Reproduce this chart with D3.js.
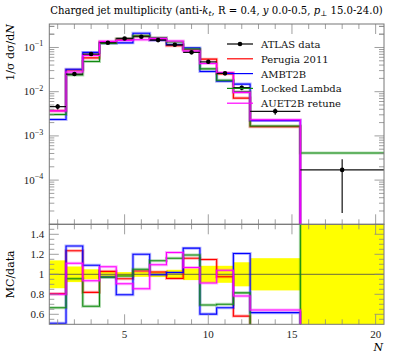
<!DOCTYPE html>
<html><head><meta charset="utf-8">
<script src="https://cdn.jsdelivr.net/npm/d3@7"></script>
<style>body{margin:0;background:#fff}svg{display:block}text{font-family:"Liberation Serif","DejaVu Serif",serif}.dj{font-family:"DejaVu Serif",serif}</style>
</head><body><svg id="c" width="397" height="358"></svg>
<script>
// ---- data ----
const binLo = [0.5,1.5,2.5,3.5,4.5,5.5,6.5,7.5,8.5,9.5,10.5,11.5,12.5,15.5];
const binHi = [1.5,2.5,3.5,4.5,5.5,6.5,7.5,8.5,9.5,10.5,11.5,12.5,15.5,20.5];
const dataVals = [0.0046,0.0251,0.071,0.128,0.160,0.175,0.147,0.115,0.0776,0.0475,0.026,0.0123,0.0036,0.00017];
const dataErrUp = [0.00064,0.00196,0.00355,0.00422,0.00352,0.00438,0.00412,0.00518,0.0045,0.00404,0.00221,0.00148,0.00058,0.000128];
const dataErrDown = [0.00064,0.00196,0.00355,0.00422,0.00352,0.00438,0.00412,0.00518,0.0045,0.00404,0.00221,0.00148,0.00058,0.000152];
const perugia2011 = [0.00371,0.0310,0.0582,0.1318,0.1530,0.1808,0.1504,0.1102,0.0900,0.0545,0.02535,0.00716,0.00162,0];
const ambt2b = [0.00235,0.0322,0.0774,0.1245,0.1274,0.210,0.1464,0.1171,0.0979,0.0286,0.01732,0.01486,0.00222,0];
const lockedLambda = [0.00306,0.0240,0.0483,0.1242,0.1573,0.1838,0.1670,0.1334,0.0926,0.0329,0.0182,0.01002,0.00168,0.00041];
const auet2b = [0.00368,0.02786,0.06646,0.1377,0.1450,0.1498,0.1611,0.1401,0.0829,0.04337,0.02704,0.00963,0.002315,0];
const seriesNames = ["Perugia 2011","AMBT2B","Locked Lambda","AUET2B retune"];
const seriesColors = ["#ff0000","#0000ff","#108a10","#ff00ff"];
const mainYTicks = [1e-1,1e-2,1e-3,1e-4];
const mainYLabels = ["\u22121","\u22122","\u22123","\u22124"];
const ratioTicks = [0.6,0.8,1.0,1.2,1.4];
const ratioLabels = ["0.6","0.8","1","1.2","1.4"];
const xTickVals = [5,10,15,20];
const xTickLabels = ["5","10","15","20"];

// ---- layout ----
const svg = d3.select("#c");
const L = 49.3, R = 384, T = 24, MB = 224.3, RB = 324.3;
const x = d3.scaleLinear().domain([0.5,20.5]).range([L,R]);
const yM = d3.scaleLog().domain([1e-5,0.34]).range([MB,T]);
const yR = d3.scaleLinear().domain([0.5,1.5]).range([RB,MB]);
const frame = "#777", tickCol = "#888";

const defs = svg.append("defs");
defs.append("clipPath").attr("id","cm").append("rect").attr("x",L).attr("y",T).attr("width",R-L).attr("height",MB-T);
defs.append("clipPath").attr("id","cr").append("rect").attr("x",L).attr("y",MB).attr("width",R-L).attr("height",RB-MB);

const gMain = svg.append("g").attr("clip-path","url(#cm)");
const gRat = svg.append("g").attr("clip-path","url(#cr)");

// ratio: yellow data band
const nB = binLo.length;
const bandG = gRat.append("g");
d3.range(nB).forEach(i=>{
  const up = 1 + dataErrUp[i]/dataVals[i], dn = 1 - dataErrDown[i]/dataVals[i];
  bandG.append("rect").attr("x",x(binLo[i])).attr("width",x(binHi[i])-x(binLo[i]))
    .attr("y",yR(up)).attr("height",yR(dn)-yR(up)).attr("fill","#ffff00");
});
gRat.append("line").attr("x1",L).attr("x2",R).attr("y1",yR(1)).attr("y2",yR(1)).attr("stroke","#6b6b40").attr("stroke-width",1);

const mcSeries = [perugia2011, ambt2b, lockedLambda, auet2b];
function stepPts(vals, f){
  const pts=[];
  vals.forEach((v,i)=>{pts.push([x(binLo[i]),f(v,i)]);pts.push([x(binHi[i]),f(v,i)]);});
  return pts;
}
const line = d3.line();
mcSeries.forEach((vals,k)=>{
  const col = seriesColors[k];
  const mp = stepPts(vals,(v)=>yM(Math.max(v,1e-7)));
  gMain.append("path").attr("d",line(mp)).attr("fill","none").attr("stroke",col).attr("stroke-width",3).attr("stroke-opacity",0.3);
  gMain.append("path").attr("d",line(mp)).attr("fill","none").attr("stroke",col).attr("stroke-width",1.1);
  const rp = stepPts(vals,(v,i)=>{let r=v/dataVals[i]; r=Math.max(0.3,Math.min(r,3)); return yR(r);});
  gRat.append("path").attr("d",line(rp)).attr("fill","none").attr("stroke",col).attr("stroke-width",3).attr("stroke-opacity",0.3);
  gRat.append("path").attr("d",line(rp)).attr("fill","none").attr("stroke",col).attr("stroke-width",1.1);
});

// main: data points
d3.range(nB).forEach(i=>{
  const cx = x((binLo[i]+binHi[i])/2), cy = yM(dataVals[i]);
  gMain.append("line").attr("x1",x(binLo[i])).attr("x2",x(binHi[i])).attr("y1",cy).attr("y2",cy).attr("stroke","#111").attr("stroke-width",1.2);
  gMain.append("line").attr("x1",cx).attr("x2",cx).attr("y1",yM(dataVals[i]+dataErrUp[i])).attr("y2",yM(Math.max(dataVals[i]-dataErrDown[i],1e-7))).attr("stroke","#111").attr("stroke-width",1.2);
  gMain.append("circle").attr("cx",cx).attr("cy",cy).attr("r",2.3).attr("fill","#000");
});

// ---- frames and ticks ----
const ax = svg.append("g");
function hl(x1,x2,y){ax.append("line").attr("x1",x1).attr("x2",x2).attr("y1",y).attr("y2",y).attr("stroke",tickCol).attr("stroke-width",0.8);}
function vl(xx,y1,y2){ax.append("line").attr("x1",xx).attr("x2",xx).attr("y1",y1).attr("y2",y2).attr("stroke",tickCol).attr("stroke-width",0.8);}
d3.range(1,21).forEach(v=>{
  const len = (v%5===0)?10:5, xx=x(v);
  [[T,1],[MB,-1],[MB,1],[RB,-1]].forEach(([y0,dir])=>vl(xx,y0,y0+dir*len));
});
for(let e=-5;e<=-1;e++){
  for(let m=1;m<=9;m++){
    const v=m*Math.pow(10,e); if(v>0.34) continue;
    const yy=yM(v), len=(m===1)?9.5:5;
    hl(L,L+len,yy); hl(R,R-len,yy);
  }
}
for(let m=2;m<=3;m++){const yy=yM(m*0.1);hl(L,L+5,yy);hl(R,R-5,yy);}
d3.range(1,20).forEach(j=>{
  const v=0.5+j*0.05; const yy=yR(v);
  const major = (j%4===2);
  const len = major?9.5:5;
  hl(L,L+len,yy); hl(R,R-len,yy);
});
[[T,MB],[MB,RB]].forEach(([a,b])=>{
  ax.append("rect").attr("x",L).attr("y",a).attr("width",R-L).attr("height",b-a).attr("fill","none").attr("stroke",frame).attr("stroke-width",1);
});

// labels
const lab = svg.append("g").attr("fill","#222").attr("font-size",11);
mainYTicks.forEach((v,i)=>{
  const t = lab.append("text").attr("x",L-6).attr("y",yM(v)+3.5).attr("text-anchor","end");
  t.append("tspan").text("10");
  t.append("tspan").attr("font-size",8).attr("dy",-4.5).text(mainYLabels[i]);
});
ratioTicks.forEach((v,i)=>{
  lab.append("text").attr("x",L-5).attr("y",yR(v)+3.8).attr("text-anchor","end").text(ratioLabels[i]);
});
xTickVals.forEach((v,i)=>{
  lab.append("text").attr("x",x(v)).attr("y",338).attr("text-anchor","middle").text(xTickLabels[i]);
});
svg.append("text").attr("class","dj").attr("x",R-1).attr("y",351).attr("text-anchor","end").attr("font-size",11).attr("font-style","italic").text("N");
const yl = svg.append("text").attr("class","dj").attr("transform","translate(14,24) rotate(-90)").attr("text-anchor","end").attr("font-size",11);
yl.append("tspan").text("1/\u03C3 d\u03C3/d");
yl.append("tspan").attr("font-style","italic").text("N");
svg.append("text").attr("class","dj").attr("transform",`translate(14,${(MB+RB)/2}) rotate(-90)`).attr("text-anchor","middle").attr("font-size",11).text("MC/data");

// title
const tt = svg.append("text").attr("class","dj").attr("x",L+1).attr("y",14).attr("font-size",10.1);
tt.append("tspan").text("Charged jet multiplicity (anti-");
tt.append("tspan").attr("font-style","italic").text("k");
tt.append("tspan").attr("font-style","italic").attr("font-size",7.5).attr("dy",2).text("t");
tt.append("tspan").attr("dy",-2).text(", R = 0.4, ");
tt.append("tspan").attr("font-style","italic").text("y");
tt.append("tspan").text(" 0.0-0.5, ");
tt.append("tspan").attr("font-style","italic").text("p");
tt.append("tspan").attr("font-size",7.5).attr("dy",2).text("\u22A5");
tt.append("tspan").attr("dy",-2).text(" 15.0-24.0)");

// legend
const lg = svg.append("g");
const legNames = ["ATLAS data"].concat(seriesNames);
const legCols = ["#000"].concat(seriesColors);
legNames.forEach((n,i)=>{
  const yy = 44 + i*14.8;
  lg.append("line").attr("x1",227).attr("x2",253).attr("y1",yy).attr("y2",yy).attr("stroke",legCols[i]).attr("stroke-width",1.2);
  if(i===0) lg.append("circle").attr("cx",240).attr("cy",yy).attr("r",2.3).attr("fill","#000");
  lg.append("text").attr("class","dj").attr("x",261).attr("y",yy+4).attr("font-size",10).attr("fill","#111").text(n);
});
</script></body></html>
